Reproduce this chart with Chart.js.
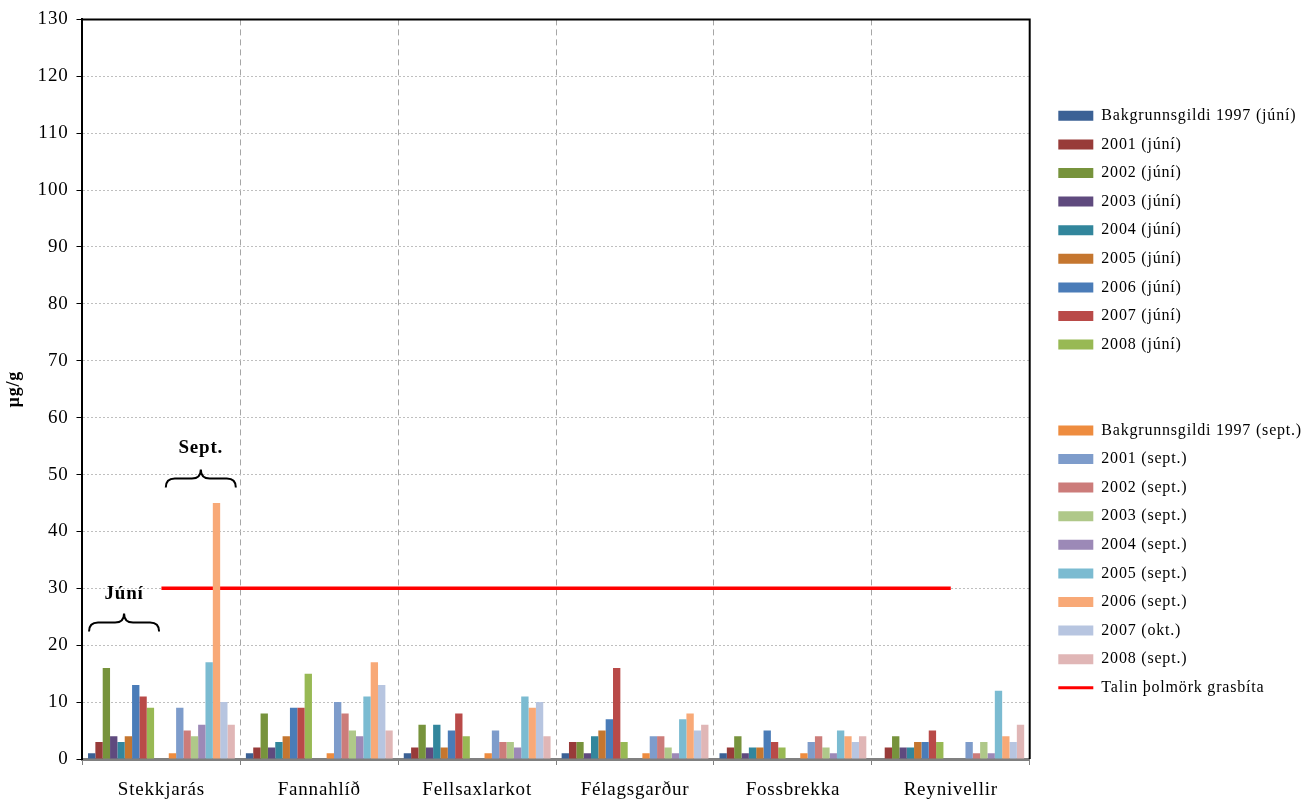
<!DOCTYPE html>
<html>
<head>
<meta charset="utf-8">
<script src="https://cdn.jsdelivr.net/npm/chart.js@4"></script>
<style>
  html,body{margin:0;padding:0;background:#fff;}
  #wrap{width:1304px;height:801px;}
</style>
</head>
<body>
<div id="wrap"><canvas id="c" width="1304" height="801"></canvas></div>
<script>
const categories = ['Stekkjarás','Fannahlíð','Fellsaxlarkot','Félagsgarður','Fossbrekka','Reynivellir'];
const yTicks = [0,10,20,30,40,50,60,70,80,90,100,110,120,130];

const juneLabels = ['Bakgrunnsgildi 1997 (júní)','2001 (júní)','2002 (júní)','2003 (júní)','2004 (júní)','2005 (júní)','2006 (júní)','2007 (júní)','2008 (júní)'];
const septLabels = ['Bakgrunnsgildi 1997 (sept.)','2001 (sept.)','2002 (sept.)','2003 (sept.)','2004 (sept.)','2005 (sept.)','2006 (sept.)','2007 (okt.)','2008 (sept.)'];
const thresholdLabel = 'Talin þolmörk grasbíta';

const bak1997Juni = [1,1,1,1,1,null];
const y2001Juni   = [3,2,2,3,2,2];
const y2002Juni   = [16,8,6,3,4,4];
const y2003Juni   = [4,2,2,1,1,2];
const y2004Juni   = [3,3,6,4,2,2];
const y2005Juni   = [4,4,2,5,2,3];
const y2006Juni   = [13,9,5,7,5,3];
const y2007Juni   = [11,9,8,16,3,5];
const y2008Juni   = [9,15,4,3,2,3];

const bak1997Sept = [1,1,1,1,1,null];
const y2001Sept   = [9,10,5,4,3,3];
const y2002Sept   = [5,8,3,4,4,1];
const y2003Sept   = [4,5,3,2,2,3];
const y2004Sept   = [6,4,2,1,1,1];
const y2005Sept   = [17,11,11,7,5,12];
const y2006Sept   = [45,17,9,8,4,4];
const y2007Okt    = [10,13,10,5,3,3];
const y2008Sept   = [6,5,4,6,4,6];

const threshold = [30,30,30,30,30,30];

const juneSeries = [bak1997Juni,y2001Juni,y2002Juni,y2003Juni,y2004Juni,y2005Juni,y2006Juni,y2007Juni,y2008Juni];
const septSeries = [bak1997Sept,y2001Sept,y2002Sept,y2003Sept,y2004Sept,y2005Sept,y2006Sept,y2007Okt,y2008Sept];
const juneColors = ['#3B6195','#983B39','#77933C','#5F4A7E','#32869C','#C5762F','#4A7CB8','#B94A48','#98B954'];
const septColors = ['#EE8C3F','#7E9CCB','#CC7C7A','#AFC889','#9C89B7','#7BBBD1','#F8A977','#B7C5E0','#E0B6B6'];

const serif = "'Liberation Serif','Times New Roman',serif";

const datasets = [];
juneSeries.forEach((d,i)=>datasets.push({type:'bar',label:juneLabels[i],data:d,backgroundColor:juneColors[i],order:0}));
datasets.push({type:'bar',label:'',data:[null,null,null,null,null,null],spacer:true,backgroundColor:'rgba(0,0,0,0)',order:0});
datasets.push({type:'bar',label:'',data:[null,null,null,null,null,null],spacer:true,backgroundColor:'rgba(0,0,0,0)',order:0});
septSeries.forEach((d,i)=>datasets.push({type:'bar',label:septLabels[i],data:d,backgroundColor:septColors[i],order:0}));
datasets.push({type:'line',label:thresholdLabel,data:threshold,borderColor:'#FF0000',backgroundColor:'#FF0000',borderWidth:3.5,pointRadius:0,fill:false,order:1});

const LS = '0.8px';
const spacingPlugin = {
  id:'ls',
  beforeUpdate(c){ c.ctx.letterSpacing = LS; },
  beforeLayout(c){ c.ctx.letterSpacing = LS; },
  beforeDraw(c){ c.ctx.letterSpacing = LS; }
};

const gapPlugin = {
  id:'gapbox',
  beforeInit(chart){
    if (!Chart.layouts) return;
    Chart.layouts.addBox(chart,{
      position:'right', weight:500, fullSize:false, options:{display:false},
      width:0, height:0, left:0, top:0, right:0, bottom:0,
      isHorizontal(){ return false; },
      update(maxW,maxH){ this.width = 16; this.height = maxH; },
      draw(){}
    });
  }
};

const annotPlugin = {
  id:'annot',
  afterDatasetsDraw(chart){
    const ctx = chart.ctx, y = chart.scales.y;
    const m0 = chart.getDatasetMeta(0).data[0], m8 = chart.getDatasetMeta(8).data[0];
    const s0 = chart.getDatasetMeta(11).data[0], s8 = chart.getDatasetMeta(19).data[0];
    function brace(x0,x1,yb,h){
      const mid=(x0+x1)/2;
      ctx.beginPath();
      ctx.moveTo(x0,yb+h);
      ctx.quadraticCurveTo(x0,yb,x0+h,yb);
      ctx.lineTo(mid-h,yb);
      ctx.quadraticCurveTo(mid,yb,mid,yb-h);
      ctx.quadraticCurveTo(mid,yb,mid+h,yb);
      ctx.lineTo(x1-h,yb);
      ctx.quadraticCurveTo(x1,yb,x1,yb+h);
      ctx.stroke();
    }
    ctx.save();
    ctx.strokeStyle='#000'; ctx.lineWidth=2;
    const jx0=m0.x-m0.width/2+1, jx1=m8.x+m8.width/2+5;
    brace(jx0,jx1,y.getPixelForValue(24.0),9);
    const sx0=s0.x-s0.width/2-3, sx1=s8.x+s8.width/2+1;
    brace(sx0,sx1,y.getPixelForValue(49.3),9);
    ctx.fillStyle='#000'; ctx.font="bold 19px "+serif; ctx.textAlign='center'; ctx.textBaseline='middle';
    ctx.fillText('Júní',(jx0+jx1)/2,y.getPixelForValue(28.9));
    ctx.fillText('Sept.',(sx0+sx1)/2,y.getPixelForValue(54.7));
    ctx.restore();
  },
  afterDraw(chart){
    const a = chart.chartArea, ctx = chart.ctx;
    ctx.save();
    ctx.strokeStyle='#000'; ctx.lineWidth=2;
    ctx.beginPath();
    ctx.moveTo(a.left,a.top); ctx.lineTo(a.right,a.top); ctx.lineTo(a.right,a.bottom);
    ctx.stroke();
    ctx.restore();
  }
};

new Chart(document.getElementById('c'),{
  data:{labels:categories,datasets:datasets},
  options:{
    responsive:false,
    animation:false,
    devicePixelRatio:1,
    layout:{padding:{left:4,right:-8,top:10,bottom:-14.8}},
    datasets:{bar:{categoryPercentage:0.93,barPercentage:1.0,borderWidth:0}},
    scales:{
      x:{
        offset:true,
        grid:{offset:true,color:'#A6A6A6',lineWidth:1,drawTicks:true,tickLength:6,tickColor:'#808080',tickBorderDash:[]},
        border:{display:true,color:'#808080',width:3,dash:[6,4]},
        ticks:{color:'#000',font:{family:serif,size:19},padding:14,maxRotation:0}
      },
      y:{
        min:0,max:130,
        afterBuildTicks(scale){scale.ticks = yTicks.map(v=>({value:v}));},
        grid:{color:'#BFBFBF',lineWidth:1,tickLength:6,tickColor:'#000',tickBorderDash:[]},
        border:{display:true,color:'#000',width:2,dash:[2,2]},
        ticks:{color:'#000',font:{family:serif,size:19},padding:8},
        title:{display:true,text:'µg/g',color:'#000',font:{family:serif,size:18,weight:'bold'},padding:{top:0,bottom:4}}
      }
    },
    plugins:{
      tooltip:{enabled:false},
      legend:{
        position:'right',
        align:'center',
        fullSize:false,
        title:{display:true,text:' ',color:'#000',font:{family:serif,size:16},padding:3},
        labels:{
          usePointStyle:true,
          pointStyleWidth:35,
          boxHeight:10,
          padding:12.6,
          color:'#000',
          font:{family:serif,size:16},
          generateLabels(chart){
            return chart.data.datasets.map((ds,i)=>{
              if(ds.spacer) return {text:'',fontColor:'#000',fillStyle:'rgba(0,0,0,0)',strokeStyle:'rgba(0,0,0,0)',lineWidth:0,pointStyle:'rect',datasetIndex:i,hidden:false};
              if(ds.type==='line') return {text:ds.label,fontColor:'#000',fillStyle:ds.borderColor,strokeStyle:ds.borderColor,lineWidth:3,pointStyle:'line',datasetIndex:i,hidden:false};
              return {text:ds.label,fontColor:'#000',fillStyle:ds.backgroundColor,strokeStyle:ds.backgroundColor,lineWidth:0,pointStyle:'rect',datasetIndex:i,hidden:false};
            });
          }
        }
      }
    }
  },
  plugins:[spacingPlugin,gapPlugin,annotPlugin]
});
</script>
</body>
</html>
